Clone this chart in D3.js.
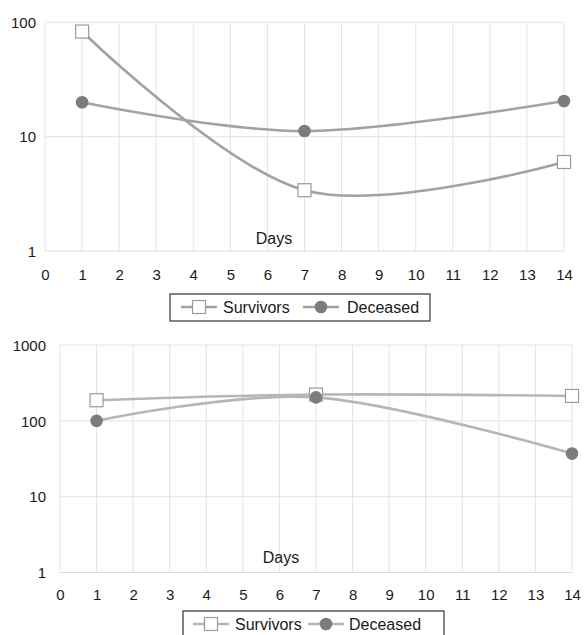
<!DOCTYPE html>
<html>
<head>
<meta charset="utf-8">
<script src="https://cdn.jsdelivr.net/npm/d3@7/dist/d3.min.js"></script>
<style>
  html, body { margin: 0; padding: 0; background: #fff; }
  svg { display: block; font-family: "Liberation Sans", Arial, sans-serif; }
</style>
</head>
<body>
<svg id="chart" width="584" height="635"></svg>
<script>
// ---- Data ----
const days = [1, 7, 14];
const xTicks = [0,1,2,3,4,5,6,7,8,9,10,11,12,13,14];
const seriesNames = ["Survivors", "Deceased"];

const topSurvivors = [83, 3.4, 6.0];
const topDeceased  = [20, 11.2, 20.5];
const topYTicks = [1, 10, 100];

const botSurvivors = [187, 222, 213];
const botDeceased  = [100, 204, 37];
const botYTicks = [1, 10, 100, 1000];

// ---- Drawing ----
const svg = d3.select("#chart");

function drawChart(cfg) {
  const g = svg.append("g");
  const x = d3.scaleLinear().domain([0, 14]).range([cfg.x0, cfg.x1]);
  const y = d3.scaleLog().domain([1, cfg.yMax]).range([cfg.yBottom, cfg.yTop]);

  // grid
  g.append("g").selectAll("line.v").data(xTicks).join("line")
    .attr("x1", d => x(d)).attr("x2", d => x(d))
    .attr("y1", cfg.yTop).attr("y2", cfg.yBottom)
    .attr("stroke", "#e4e4e4").attr("stroke-width", 1);
  g.append("g").selectAll("line.h").data(cfg.yTicks).join("line")
    .attr("x1", cfg.x0).attr("x2", cfg.x1)
    .attr("y1", d => y(d)).attr("y2", d => y(d))
    .attr("stroke", d => d === 1 ? "#dcdcdc" : "#e4e4e4").attr("stroke-width", 1);

  // axes labels
  const xAxis = d3.axisBottom(x).tickValues(xTicks).tickSize(0).tickFormat(d3.format("d"));
  const xa = g.append("g").attr("transform", `translate(0,${cfg.yBottom + cfg.xLabelGap})`).call(xAxis);
  xa.select(".domain").remove();
  xa.selectAll("text").attr("font-size", 15).attr("fill", "#1a1a1a")
    .attr("font-family", "Liberation Sans, Arial, sans-serif").attr("dy", "0");

  const yAxis = d3.axisLeft(y).tickValues(cfg.yTicks).tickSize(0).tickFormat(d3.format("d"));
  const ya = g.append("g").attr("transform", `translate(${cfg.yLabelX},0)`).call(yAxis);
  ya.select(".domain").remove();
  ya.selectAll("text").attr("font-size", 15).attr("fill", "#1a1a1a")
    .attr("font-family", "Liberation Sans, Arial, sans-serif").attr("x", 0).attr("dy", "0.35em");

  // Days label
  g.append("text").attr("x", cfg.daysX).attr("y", cfg.daysY)
    .attr("text-anchor", "middle").attr("font-size", 16).attr("fill", "#1a1a1a")
    .attr("dy", "0.35em").text("Days");

  const line = d3.line().x(d => x(d[0])).y(d => y(d[1])).curve(d3.curveCatmullRom.alpha(0));
  const sPts = days.map((d, i) => [d, cfg.surv[i]]);
  const dPts = days.map((d, i) => [d, cfg.dec[i]]);

  g.append("path").datum(sPts).attr("d", line).attr("fill", "none")
    .attr("stroke", cfg.lineColor).attr("stroke-width", 2.6);
  g.append("g").selectAll("rect").data(sPts).join("rect")
    .attr("x", d => x(d[0]) - 6.5).attr("y", d => y(d[1]) - 6.5)
    .attr("width", 13).attr("height", 13)
    .attr("fill", "#fff").attr("stroke", "#9a9a9a").attr("stroke-width", 1.2);
  g.append("path").datum(dPts).attr("d", line).attr("fill", "none")
    .attr("stroke", cfg.lineColor).attr("stroke-width", 2.6);
  g.append("g").selectAll("circle").data(dPts).join("circle")
    .attr("cx", d => x(d[0])).attr("cy", d => y(d[1])).attr("r", 6.3)
    .attr("fill", "#7b7b80");

  // legend
  const L = cfg.legend;
  g.append("rect").attr("x", L.x).attr("y", L.y).attr("width", L.w).attr("height", L.h)
    .attr("fill", "#fff").attr("stroke", "#333").attr("stroke-width", 1.2);
  g.append("line").attr("x1", L.s1).attr("x2", L.s1 + 36).attr("y1", L.cy).attr("y2", L.cy)
    .attr("stroke", cfg.lineColor).attr("stroke-width", 2.6);
  g.append("rect").attr("x", L.s1 + 18 - 6.5).attr("y", L.cy - 6.5).attr("width", 13).attr("height", 13)
    .attr("fill", "#fff").attr("stroke", "#9a9a9a").attr("stroke-width", 1.2);
  g.append("text").attr("x", L.t1).attr("y", L.cy).attr("dy", "0.35em")
    .attr("font-size", 16).attr("fill", "#1a1a1a").text(seriesNames[0]);
  g.append("line").attr("x1", L.s2).attr("x2", L.s2 + 36).attr("y1", L.cy).attr("y2", L.cy)
    .attr("stroke", cfg.lineColor).attr("stroke-width", 2.6);
  g.append("circle").attr("cx", L.s2 + 18).attr("cy", L.cy).attr("r", 6.3).attr("fill", "#7b7b80");
  g.append("text").attr("x", L.t2).attr("y", L.cy).attr("dy", "0.35em")
    .attr("font-size", 16).attr("fill", "#1a1a1a").text(seriesNames[1]);
}

drawChart({
  x0: 45, x1: 564, yTop: 22.3, yBottom: 251, yMax: 100, yTicks: topYTicks,
  xLabelGap: 26, yLabelX: 36, daysX: 274, daysY: 238,
  surv: topSurvivors, dec: topDeceased, lineColor: "#a2a2a2",
  legend: { x: 170, y: 294, w: 260, h: 27, cy: 307, s1: 181, t1: 223, s2: 303, t2: 347 }
});

drawChart({
  x0: 60, x1: 572, yTop: 345, yBottom: 572.5, yMax: 1000, yTicks: botYTicks,
  xLabelGap: 24, yLabelX: 46, daysX: 281, daysY: 557,
  surv: botSurvivors, dec: botDeceased, lineColor: "#b6b6b6",
  legend: { x: 183, y: 611, w: 261, h: 40, cy: 624, s1: 193, t1: 235, s2: 308, t2: 349 }
});
</script>
</body>
</html>
